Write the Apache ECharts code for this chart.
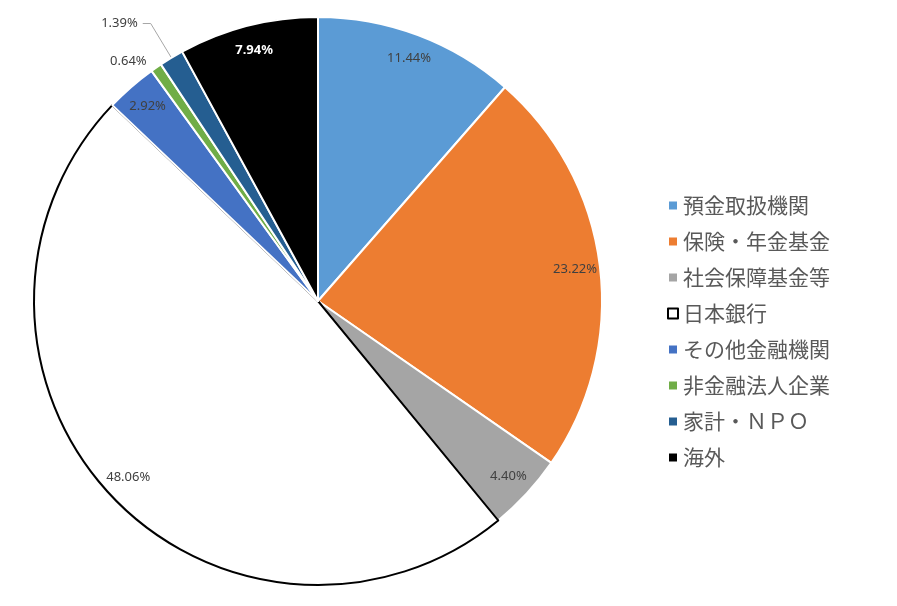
<!DOCTYPE html>
<html><head><meta charset="utf-8">
<script src="https://cdn.jsdelivr.net/npm/echarts@6/dist/echarts.min.js"></script>
<style>html,body{margin:0;padding:0;background:#fff}#c{width:897px;height:606px}</style>
</head><body><div id="c"></div>
<script>
const categories = ['預金取扱機関','保険・年金基金','社会保障基金等','日本銀行','その他金融機関','非金融法人企業','家計・ＮＰＯ','海外'];
const values = [11.44, 23.22, 4.40, 48.06, 2.92, 0.64, 1.39, 7.94];
const colors = ['#5B9BD5','#ED7D31','#A5A5A5','#FFFFFF','#4472C4','#70AD47','#255E91','#000000'];

const cx = 318, cy = 301, R = 284;
const labelFont = '"Noto Sans", "Liberation Sans", sans-serif';

const sliceData = categories.map((n,i)=>({
  name:n, value:values[i],
  itemStyle: n==='日本銀行' ? {color:'#fff', borderColor:'#000', borderWidth:2} : {color:colors[i], borderColor:'#fff', borderWidth:2}
}));

const labelData = categories.map((n,i)=>{
  const d = {name:n, value:values[i]};
  if (n==='海外') d.label = {color:'#fff', fontWeight:'bold'};
  if (n==='非金融法人企業') d.label = {position:'outside', distance:0};
  if (n==='家計・ＮＰＯ') d.label = {position:'outside'};
  return d;
});

const chart = echarts.init(document.getElementById('c'));
chart.setOption({
  animation:false,
  legend:{
    orient:'vertical', left:662, top:190, itemGap:15,
    itemWidth:10, itemHeight:10,
    icon:'rect',
    data: categories.map((n,i)=> n==='日本銀行'
      ? {name:n, itemStyle:{color:'#fff', borderColor:'#000', borderWidth:2}}
      : {name:n}),
    textStyle:{fontSize:21, color:'#595959', fontFamily:'"Noto Sans CJK JP", sans-serif', padding:[0,0,0,0]}
  },
  series:[
    {
      type:'pie', center:[cx,cy], radius:[0,R], startAngle:90, clockwise:true,
      color:colors, label:{show:false}, labelLine:{show:false}, silent:true,
      data:sliceData
    },
    {
      type:'pie', center:[cx,cy], radius:[228,R], startAngle:90, clockwise:true,
      itemStyle:{color:'rgba(0,0,0,0)', borderWidth:0}, silent:true, legendHoverLink:false,
      label:{show:true, position:'inside', formatter:p=>values[p.dataIndex].toFixed(2)+'%', fontSize:13, color:'#404040', fontFamily:labelFont},
      labelLine:{show:false},
      data:labelData.map((d,i)=>{
        if (categories[i]==='家計・ＮＰＯ') { d.labelLine = {show:true, length:40, length2:8, lineStyle:{color:'#A6A6A6', width:1}}; }
        if (categories[i]==='非金融法人企業') { d.labelLine = {show:false, length:8, length2:0}; }
        return d;
      })
    }
  ]
});
</script></body></html>
